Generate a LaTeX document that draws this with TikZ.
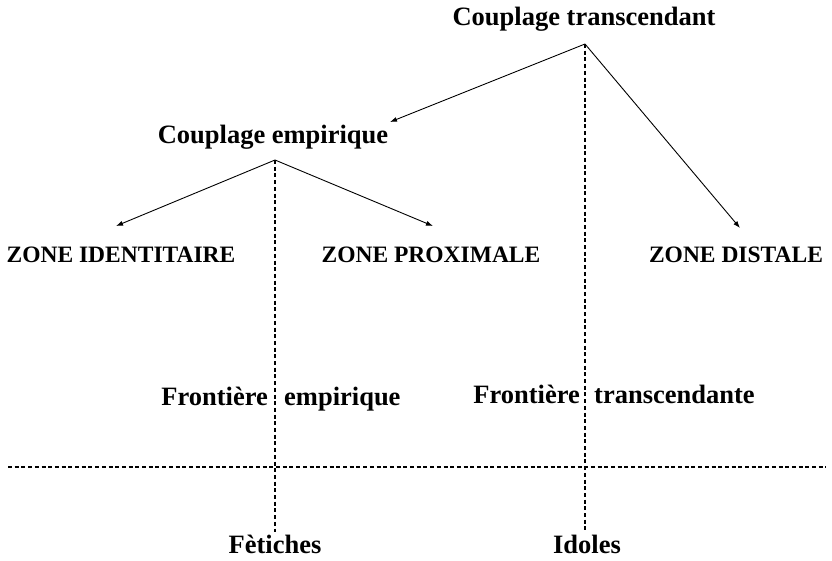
\documentclass[tikz,border=0pt]{standalone}
\usepackage{fontspec}
\setmainfont{Liberation Serif}
\usetikzlibrary{arrows.meta}

\begin{document}
\begin{tikzpicture}[x=1pt,y=-1pt]
  \tikzstyle{every node}=[font=\bfseries\fontsize{26.5}{31}\selectfont,inner sep=0pt,anchor=base]
  \tikzstyle{zone}=[font=\bfseries\fontsize{23.5}{28}\selectfont]
  \tikzstyle{link}=[-{Latex[length=7pt,width=5pt]},line width=0.9pt]
  \tikzstyle{border}=[line width=2.4pt,dash pattern=on 4pt off 2.7pt]

  \useasboundingbox (0,0) rectangle (832,560);

  % Define the couplings
  \node (trans) at (584,25) {Couplage transcendant};
  \node (emp) at (273,143) {Couplage empirique};
  \coordinate (top) at (585,44);
  \coordinate (mid) at (275,160);

  % Define the zones
  \node[zone] (ident) at (121,262) {ZONE IDENTITAIRE};
  \node[zone] (prox) at (431,262) {ZONE PROXIMALE};
  \node[zone] (dist) at (736,262) {ZONE DISTALE};

  % Arrow tips
  \coordinate (toemp) at (390,122);
  \coordinate (toident) at (116,226);
  \coordinate (toprox) at (433,226);
  \coordinate (todist) at (740,228);

  % Draw the arrows
  \foreach \a/\b in {top/toemp, top/todist, mid/toident, mid/toprox} {
    \draw[link] (\a) -- (\b);
  }

  % Draw the borders
  \coordinate (empend) at (275,532);
  \coordinate (transend) at (585,532);
  \coordinate (left) at (8,467);
  \coordinate (right) at (826,467);
  \draw[border] (mid) -- (empend);
  \draw[border] (top) -- (transend);
  \draw[border] (left) -- (right);

  % Border labels
  \node[anchor=base east] (fe1) at (268,405) {Frontière};
  \node[anchor=base west] (fe2) at (284,405) {empirique};
  \node[anchor=base east] (ft1) at (580,403) {Frontière};
  \node[anchor=base west] (ft2) at (594,403) {transcendante};
  \node (fet) at (275,553) {Fètiches};
  \node (idol) at (587,553) {Idoles};
\end{tikzpicture}
\end{document}
